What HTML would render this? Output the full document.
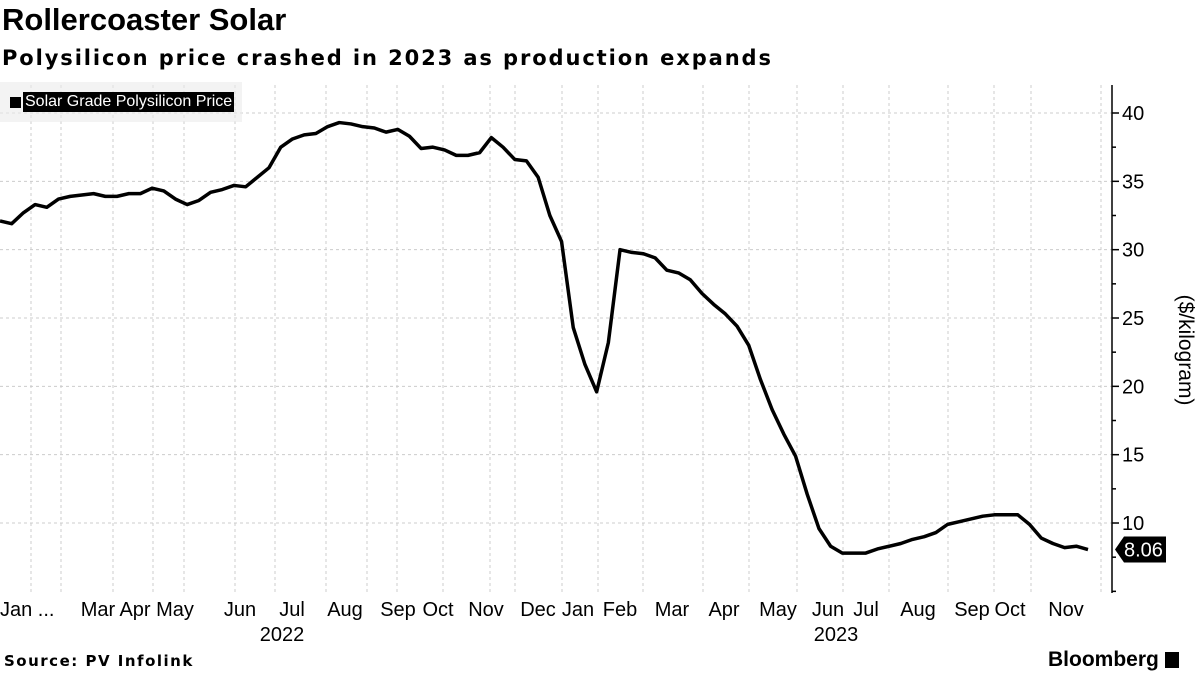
<!DOCTYPE html>
<html><head><meta charset="utf-8"><style>
body{margin:0;width:1200px;height:675px;background:#fff;font-family:"Liberation Sans",sans-serif;overflow:hidden;position:relative}
.t{position:absolute;white-space:nowrap}
</style></head><body>
<div class="t" style="left:2px;top:2px;font-size:31px;font-weight:bold;">Rollercoaster Solar</div>
<div class="t" style="left:2px;top:46px;font-size:21px;font-weight:bold;font-family:'DejaVu Sans',sans-serif;letter-spacing:1.9px">Polysilicon price crashed in 2023 as production expands</div>
<svg id="c" width="1200" height="675" style="position:absolute;left:0;top:0"></svg>
<div class="t" style="left:0;top:82px;width:242px;height:40px;background:rgba(235,235,235,0.6)"></div>
<div class="t" style="left:10px;top:97px;width:11px;height:11px;background:#000"></div>
<div class="t" style="left:23px;top:92px;background:#000;color:#fff;font-size:16px;padding:0 2px;line-height:20px">Solar Grade Polysilicon Price</div>
<div class="t" style="left:1185px;top:350px;font-size:21px;transform:translate(-50%,-50%) rotate(90deg)">($/kilogram)</div>
<div class="t" style="left:4px;top:652px;font-size:15px;font-weight:bold;font-family:'DejaVu Sans',sans-serif;letter-spacing:1.5px">Source: PV Infolink</div>
<div class="t" style="left:1048px;top:648px;font-size:21px;font-weight:bold">Bloomberg <span style="display:inline-block;width:14px;height:16px;background:#000;vertical-align:-2px"></span></div>
<script>
const values=[32.1,31.9,32.7,33.3,33.1,33.7,33.9,34.0,34.1,33.9,33.9,34.1,34.1,34.5,34.3,33.7,33.3,33.6,34.2,34.4,34.7,34.6,35.3,36.0,37.5,38.1,38.4,38.5,39.0,39.3,39.2,39.0,38.9,38.6,38.8,38.3,37.4,37.5,37.3,36.9,36.9,37.1,38.2,37.5,36.6,36.5,35.3,32.5,30.6,24.3,21.6,19.6,23.2,30.0,29.8,29.7,29.4,28.5,28.3,27.8,26.8,26.0,25.3,24.4,23.0,20.5,18.3,16.5,14.9,12.1,9.6,8.3,7.8,7.8,7.8,8.1,8.3,8.5,8.8,9.0,9.3,9.9,10.1,10.3,10.5,10.6,10.6,10.6,9.9,8.9,8.5,8.2,8.3,8.06];
const yTicks=[10,15,20,25,30,35,40];
const monthLabels=["Jan ...","Mar","Apr","May","Jun","Jul","Aug","Sep","Oct","Nov","Dec","Jan","Feb","Mar","Apr","May","Jun","Jul","Aug","Sep","Oct","Nov"];
const monthPos=[31,98,135,175,240,292,345,398,438,486,538,578,620,672,724,778,828,866,918,972,1010,1066];
const yearLabels=["2022","2023"];
const yearPos=[282,836];
const gridPos=[31,61,113,153,184,235,275,326,367,397,443,490,515,562,598,643,703,749,797,843,889,948,994,1031,1101];
const svg=document.getElementById('c');const NS='http://www.w3.org/2000/svg';
const X0=0,X1=1088,AX=1112;
const y=v=>113+(40-v)*13.667;
const x=i=>X0+i*(X1-X0)/(values.length-1);
function mk(t,a){const e=document.createElementNS(NS,t);for(const k in a)e.setAttribute(k,a[k]);svg.appendChild(e);return e;}
gridPos.forEach(p=>{const l=mk('line',{x1:p,x2:p,y1:85,y2:592,stroke:'#ccc','stroke-dasharray':'3,3'});

});
yTicks.forEach(v=>{const l=mk('line',{x1:0,x2:AX,y1:y(v),y2:y(v),stroke:'#ccc','stroke-dasharray':'3,3'});


const tk=mk('line',{x1:AX,x2:AX+7,y1:y(v),y2:y(v),stroke:'#000','stroke-width':1.5});


const t=mk('text',{x:AX+10,y:y(v)+7,'font-size':20,'font-family':'Liberation Sans, sans-serif'});t.textContent=v;

});
[12.5,17.5,22.5,27.5,32.5,37.5,7.5,5].forEach(v=>{const tk=mk('line',{x1:AX,x2:AX+4,y1:y(v),y2:y(v),stroke:'#000','stroke-width':1.5});

});
const ax=mk('line',{x1:AX,x2:AX,y1:85,y2:593,stroke:'#000','stroke-width':1.5});


monthLabels.forEach((m,i)=>{const first=i===0;const t=mk('text',{x:first?0:monthPos[i],y:616,'font-size':20,'text-anchor':first?'start':'middle','font-family':'Liberation Sans, sans-serif'});t.textContent=m;

});
yearLabels.forEach((m,i)=>{const t=mk('text',{x:yearPos[i],y:641,'font-size':20,'text-anchor':'middle','font-family':'Liberation Sans, sans-serif'});t.textContent=m;

});
const p=mk('polyline',{points:values.map((v,i)=>x(i)+','+y(v)).join(' '),fill:'none',stroke:'#000','stroke-width':3.5,'stroke-linejoin':'round'});


const last=values[values.length-1],ly=y(last);
const b=mk('path',{d:`M1115 ${ly} L1124 ${ly-13} L1166 ${ly-13} L1166 ${ly+13} L1124 ${ly+13} Z`,fill:'#000'});


const lt=mk('text',{x:1124,y:ly+7,'font-size':20,fill:'#fff','font-family':'Liberation Sans, sans-serif'});lt.textContent=last.toFixed(2);


</script>
</body></html>
